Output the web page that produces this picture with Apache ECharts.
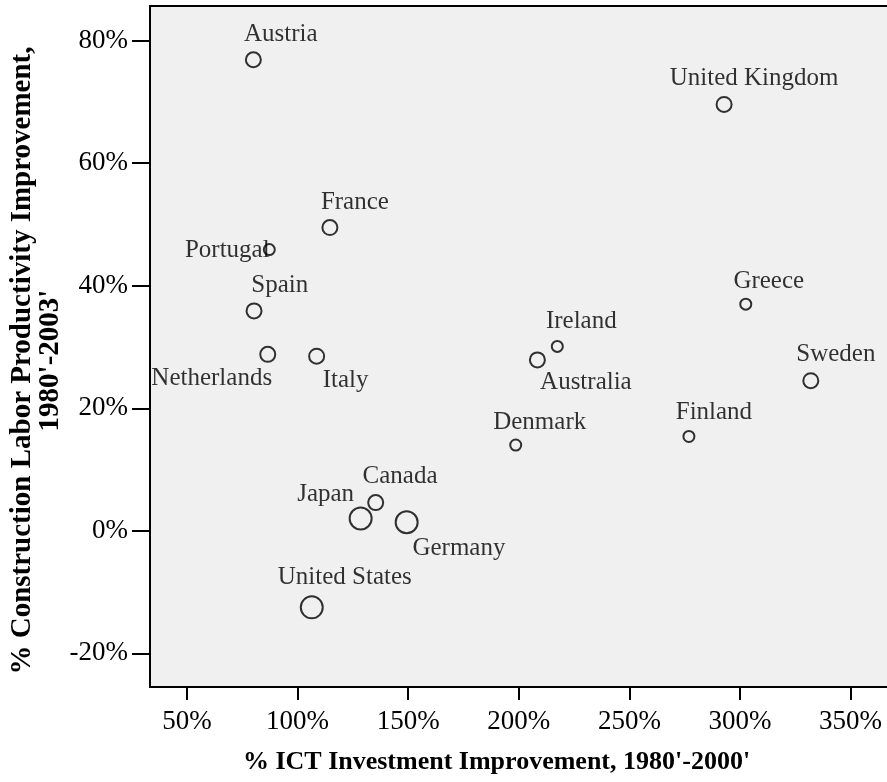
<!DOCTYPE html>
<html>
<head>
<meta charset="utf-8">
<script src="https://cdn.jsdelivr.net/npm/echarts@6/dist/echarts.min.js"></script>
<style>
html, body { margin: 0; padding: 0; background: #fff; }
#chart { width: 887px; height: 782px; }
</style>
</head>
<body>
<div id="chart"></div>
<script>
// values (percent)
var countries   = ['Austria', 'United Kingdom', 'France', 'Portugal', 'Greece', 'Spain', 'Ireland', 'Netherlands', 'Italy', 'Australia', 'Sweden', 'Denmark', 'Finland', 'Canada', 'Japan', 'Germany', 'United States'];
var ictGrowth   = [80.0, 292.8, 114.6, 87.2, 302.6, 80.3, 217.4, 86.5, 108.6, 208.4, 332.0, 198.6, 276.9, 135.3, 128.5, 149.3, 106.4];
var laborGrowth = [76.9, 69.6, 49.5, 45.9, 37.0, 35.9, 30.1, 28.8, 28.5, 27.9, 24.5, 14.0, 15.4, 4.6, 2.0, 1.4, -12.5];
var sizeClass   = [2, 2, 2, 1, 1, 2, 1, 2, 2, 2, 2, 1, 1, 2, 3, 3, 3];
var xTicks = [50, 100, 150, 200, 250, 300, 350];
var yTicks = [-20, 0, 20, 40, 60, 80];

// where each country's name sits relative to its circle (px)
var labelOffsets = {
    'Austria': [27.5, -25], 'France': [25, -25.6], 'Portugal': [-42, 1], 'Spain': [25.7, -25.7],
    'Netherlands': [-56, 24], 'Italy': [29, 24], 'Canada': [24.3, -26], 'Japan': [-35, -24.5],
    'Germany': [52.3, 26.4], 'United States': [33, -29.8], 'Ireland': [24, -24.7], 'Australia': [48.5, 22.8],
    'Denmark': [24, -23], 'United Kingdom': [30, -26], 'Greece': [23, -23], 'Sweden': [25, -26.4], 'Finland': [25, -24]
};
var symbolSizes = {1: 11, 2: 15, 3: 22};

var serif = 'Liberation Serif';

var points = countries.map(function (c, i) {
    return {
        name: c,
        value: [ictGrowth[i], laborGrowth[i]],
        symbolSize: symbolSizes[sizeClass[i]],
        label: { offset: labelOffsets[c] || [0, -24] }
    };
});

var myChart = echarts.init(document.getElementById('chart'));
myChart.setOption({
    animation: false,
    backgroundColor: '#ffffff',
    textStyle: { fontFamily: serif },
    grid: {
        left: 150, top: 6, right: -1, bottom: 95,
        show: true,
        backgroundColor: '#f0f0f0',
        borderColor: '#000',
        borderWidth: 2,
        containLabel: false,
        outerBoundsMode: 'none'
    },
    xAxis: {
        type: 'value',
        min: 33.27,
        max: 366.9,
        name: "% ICT Investment Improvement, 1980'-2000'",
        nameLocation: 'middle',
        nameGap: 62,
        nameMoveOverlap: false,
        nameTextStyle: { fontFamily: serif, fontSize: 26, fontWeight: 'bold', color: '#000', padding: [0, 45, 0, 0] },
        axisLine: { show: true, onZero: false, lineStyle: { color: '#000', width: 2 } },
        axisTick: { show: true, length: 13, customValues: xTicks, lineStyle: { color: '#000', width: 2 } },
        axisLabel: { show: true, customValues: xTicks, margin: 21, fontFamily: serif, fontSize: 27, color: '#000', formatter: '{value}%' },
        splitLine: { show: false }
    },
    yAxis: {
        type: 'value',
        min: -25.5,
        max: 85.67,
        name: "% Construction Labor Productivity Improvement,\n1980'-2003'",
        nameLocation: 'middle',
        nameRotate: 90,
        nameGap: 85,
        nameMoveOverlap: false,
        nameTextStyle: { fontFamily: serif, fontSize: 29, lineHeight: 28, fontWeight: 'bold', color: '#000', padding: [0, 28, 0, 0] },
        axisLine: { show: true, onZero: false, lineStyle: { color: '#000', width: 2 } },
        axisTick: { show: true, length: 18, customValues: yTicks, lineStyle: { color: '#000', width: 2 } },
        axisLabel: { show: true, customValues: yTicks, margin: 22, fontFamily: serif, fontSize: 27, color: '#000', formatter: '{value}%' },
        splitLine: { show: false }
    },
    series: [{
        type: 'scatter',
        symbol: 'circle',
        data: points,
        itemStyle: { color: 'transparent', borderColor: '#000', borderWidth: 2 },
        label: {
            show: true,
            position: 'inside',
            formatter: '{b}',
            fontFamily: serif,
            fontSize: 25,
            color: '#000'
        },
        emphasis: { disabled: true }
    }]
});
</script>
</body>
</html>
